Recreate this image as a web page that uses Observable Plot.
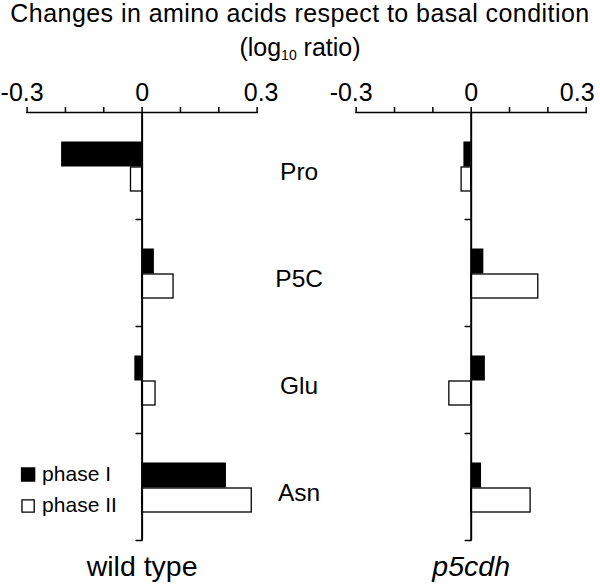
<!DOCTYPE html>
<html><head><meta charset="utf-8">
<script src="https://cdn.jsdelivr.net/npm/d3@7"></script>
<script src="https://cdn.jsdelivr.net/npm/@observablehq/plot@0.6"></script>
<style>
body{margin:0;background:#fff;font-family:"Liberation Sans",Arial,sans-serif;color:#000;}
#title{height:64px;text-align:center;font-size:25px;letter-spacing:0.45px;overflow:visible;}
#title .l1{height:26px;line-height:26px;white-space:nowrap;}
#title .l2{margin-top:8px;height:26px;line-height:26px;letter-spacing:0;}
#title .sub{font-size:14px;position:relative;top:4px;line-height:0;}
#chart svg{display:block;}
</style></head><body>
<div id="title"><div class="l1">Changes in amino acids respect to basal condition</div><div class="l2">(log<span class="sub">10</span> ratio)</div></div>
<div id="chart"></div>
<script>
const panels = ["wild type", "p5cdh"];
const aminoAcids = ["Pro", "P5C", "Glu", "Asn"];
const phases = ["phase I", "phase II"];
const wildTypePhaseI = [-0.21, 0.032, -0.019, 0.22];
const wildTypePhaseII = [-0.029, 0.082, 0.035, 0.286];
const p5cdhPhaseI = [-0.019, 0.033, 0.037, 0.027];
const p5cdhPhaseII = [-0.025, 0.175, -0.057, 0.155];
const xTickValues = [-0.3, 0, 0.3];
const xTickLabels = ["-0.3", "0", "0.3"];
const xMinorTicks = [-0.2, -0.1, 0.1, 0.2];

const phaseIRows = aminoAcids.flatMap((aa, i) => [
  {panel: panels[0], aa, value: wildTypePhaseI[i]},
  {panel: panels[1], aa, value: p5cdhPhaseI[i]}
]);
const phaseIIRows = aminoAcids.flatMap((aa, i) => [
  {panel: panels[0], aa, value: wildTypePhaseII[i]},
  {panel: panels[1], aa, value: p5cdhPhaseII[i]}
]);
const tickRows = panels.flatMap((p, j) => xTickValues.map((v, i) => ({panel: p, pi: j, value: v, label: xTickLabels[i], ti: i})));

const tickShape = {draw(context, l) { context.moveTo(0, 0); context.lineTo(0, -l); }};
const font = "Liberation Sans, Arial, sans-serif";
const tickLabelOpts = {fx: "panel", x: "value", text: "label", frameAnchor: "top", lineAnchor: "top", dy: -29, fontSize: 25};

const chart = Plot.plot({
  width: 600, height: 520,
  marginTop: 48, marginBottom: 44, marginLeft: 26.6, marginRight: 14.3,
  style: {fontFamily: font, color: "black", background: "white", overflow: "visible"},
  fx: {domain: panels, paddingInner: 0.301, paddingOuter: 0, axis: null, round: false},
  x: {domain: [-0.3, 0.3], axis: null},
  y: {domain: aminoAcids, padding: 0, axis: null, round: false},
  marks: [
    Plot.barX(phaseIIRows, {fx: "panel", y: "aa", x: "value", fill: "white", stroke: "black", strokeWidth: 1.3, insetTop: 55, insetBottom: 28}),
    Plot.barX(phaseIRows, {fx: "panel", y: "aa", x: "value", fill: "black", insetTop: 29.5, insetBottom: 52.5}),
    Plot.ruleX([0], {stroke: "black", strokeWidth: 2}),
    Plot.frame({anchor: "top", stroke: "black", strokeWidth: 1.5}),
    Plot.vector(aminoAcids, {x: 0, y: d => d, dy: 53.5, length: 6, rotate: 270, anchor: "start", shape: tickShape, stroke: "black", strokeWidth: 1.5}),
    Plot.axisX({anchor: "top", ticks: xTickValues.concat(xMinorTicks), tickFormat: () => "", tickSize: 6, strokeWidth: 1.5, label: null}),
    Plot.text(tickRows, {...tickLabelOpts, filter: d => d.ti === 1}),
    Plot.text(tickRows, {...tickLabelOpts, filter: d => d.ti === 0, dx: -5}),
    Plot.text(tickRows, {...tickLabelOpts, filter: d => d.ti === 2 && d.pi === 0, dx: 4}),
    Plot.text(tickRows, {...tickLabelOpts, filter: d => d.ti === 2 && d.pi === 1, dx: -9}),
    Plot.text(aminoAcids, {fx: () => panels[0], y: d => d, text: d => d, frameAnchor: "right", dx: 42, dy: 6, fontSize: 24.5, textAnchor: "middle"}),
    Plot.dot([phases[0]], {fx: () => panels[0], y: () => aminoAcids[3], frameAnchor: "left", dx: 1, dy: -12.5, symbol: "square", r: 7.3, fill: "black", stroke: "black"}),
    Plot.dot([phases[1]], {fx: () => panels[0], y: () => aminoAcids[3], frameAnchor: "left", dx: 1, dy: 19, symbol: "square", r: 6.9, fill: "white", stroke: "black", strokeWidth: 1.3}),
    Plot.text([phases[0]], {fx: () => panels[0], y: () => aminoAcids[3], text: d => d, frameAnchor: "left", dx: 15, dy: -12.5, textAnchor: "start", fontSize: 21}),
    Plot.text([phases[1]], {fx: () => panels[0], y: () => aminoAcids[3], text: d => d, frameAnchor: "left", dx: 15, dy: 17.8, textAnchor: "start", fontSize: 21}),
    Plot.text([panels[0]], {fx: d => d, text: d => d, frameAnchor: "bottom", dy: 35, fontSize: 28.5}),
    Plot.text([panels[1]], {fx: d => d, text: d => d, frameAnchor: "bottom", dy: 35, fontSize: 28.5, fontStyle: "italic"})
  ]
});
document.getElementById("chart").appendChild(chart);
</script>
</body></html>
